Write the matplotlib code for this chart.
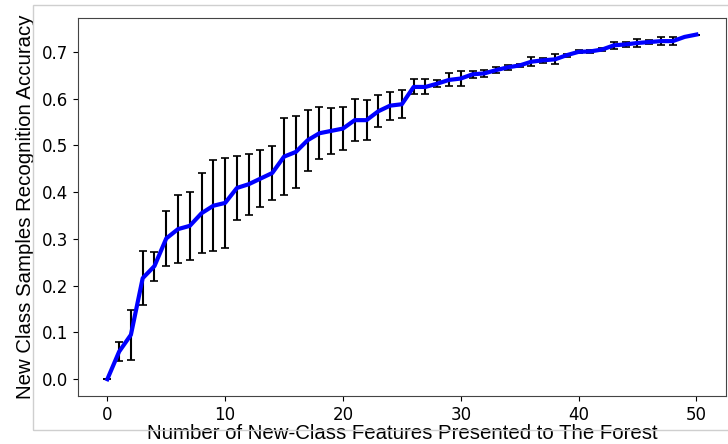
import numpy as np
import matplotlib
matplotlib.use("Agg")
import matplotlib.pyplot as plt
from matplotlib.patches import Rectangle

n_features = list(range(51))
accuracy = [0.000, 0.059, 0.095, 0.216, 0.242, 0.301, 0.321, 0.328, 0.355, 0.371,
            0.377, 0.409, 0.417, 0.429, 0.441, 0.476, 0.486, 0.511, 0.526, 0.531,
            0.536, 0.554, 0.554, 0.573, 0.585, 0.588, 0.625, 0.625, 0.632, 0.640,
            0.643, 0.652, 0.654, 0.661, 0.667, 0.671, 0.679, 0.682, 0.684, 0.693,
            0.700, 0.701, 0.705, 0.714, 0.716, 0.719, 0.721, 0.723, 0.723, 0.732,
            0.737]
std_err = [0.000, 0.020, 0.053, 0.058, 0.031, 0.058, 0.073, 0.073, 0.085, 0.097,
           0.096, 0.068, 0.065, 0.061, 0.057, 0.082, 0.077, 0.065, 0.056, 0.050,
           0.046, 0.045, 0.043, 0.034, 0.030, 0.030, 0.016, 0.016, 0.008, 0.014,
           0.016, 0.008, 0.008, 0.006, 0.005, 0.004, 0.010, 0.005, 0.011, 0.003,
           0.003, 0.003, 0.003, 0.007, 0.005, 0.009, 0.005, 0.009, 0.009, 0.000,
           0.000]

fig = plt.figure(figsize=(7.28, 4.44), dpi=100)
# light grey frame of the original screenshot
fig.patches.append(Rectangle((0.045, 0.0315), 1.0, 0.9575, transform=fig.transFigure,
                             fill=False, edgecolor="#cfcfcf", linewidth=1.0, zorder=0))
ax = fig.add_axes([0.107, 0.108, 0.890, 0.851])

ax.errorbar(n_features, accuracy, yerr=std_err, ecolor="black", elinewidth=1.5,
            capsize=2.8, capthick=1.2, color="blue", linewidth=3, zorder=3)

ax.set_xlim(-2.5, 52.5)
ax.set_ylim(-0.036, 0.772)
ax.set_xticks([0, 10, 20, 30, 40, 50])
ax.set_yticks(np.arange(0, 0.75, 0.1))
ax.tick_params(labelsize=12)
for s in ax.spines.values():
    s.set_color("#444444")

ax.set_xlabel("Number of New-Class Features Presented to The Forest",
              fontsize=14.7, family="Liberation Sans", labelpad=0)
ax.set_ylabel("New Class Samples Recognition Accuracy",
              fontsize=14.7, family="Liberation Sans", labelpad=5)

fig.savefig("out.png", dpi=100)
